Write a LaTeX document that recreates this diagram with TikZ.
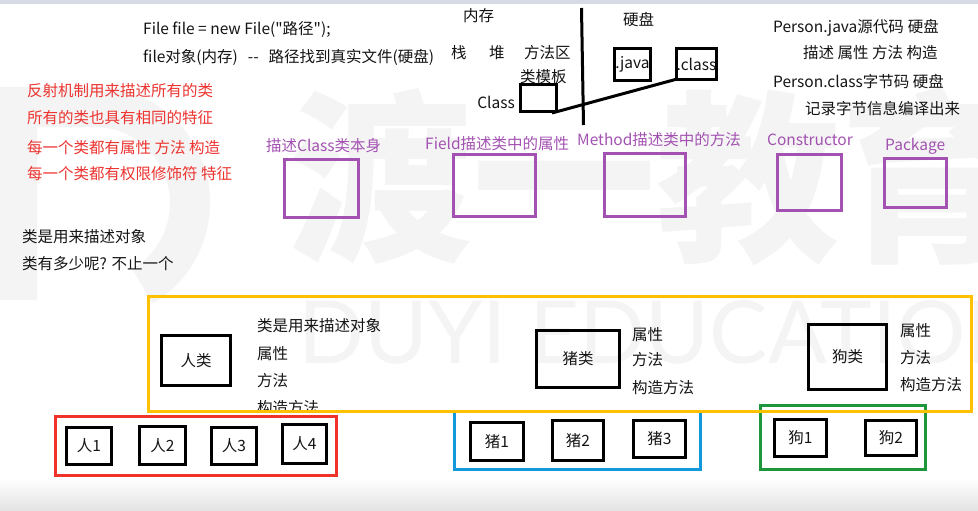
\documentclass[tikz,border=0pt]{standalone}
\usepackage{fontspec}
\setmainfont{Noto Sans CJK SC}[Ligatures=TeXOff]
\newfontfamily\wmlatin{Lato}
\usetikzlibrary{calc}
\definecolor{pur}{RGB}{163,82,178}
\definecolor{redtxt}{RGB}{236,52,48}
\definecolor{redbox}{RGB}{240,50,40}
\definecolor{yel}{RGB}{255,192,0}
\definecolor{blu}{RGB}{20,152,220}
\definecolor{grn}{RGB}{30,150,60}
\definecolor{ink}{RGB}{20,20,20}
\definecolor{wmc}{RGB}{244,244,244}
\definecolor{bandc}{RGB}{226,226,226}
\definecolor{topc}{RGB}{214,218,228}
\tikzset{
  txt/.style={font=\fontsize{15.5}{18}\selectfont, text=ink, inner sep=0pt, anchor=base west},
  redt/.style={txt, text=redtxt},
  purt/.style={txt, text=pur},
  bbox/.style={draw=black, line width=3pt, inner sep=0pt, font=\fontsize{15.5}{18}\selectfont, text=ink},
  pbox/.style={draw=pur, line width=3pt, inner sep=0pt},
  frame/.style={line width=3pt, inner sep=0pt},
}
\begin{document}
\begin{tikzpicture}[x=1pt,y=-1pt]
\useasboundingbox (0,0) rectangle (978,511);
\fill[white] (0,0) rectangle (978,511);
% background watermark
\draw[wmc, line width=40pt] (17,300) -- (17,107) -- (95,107) arc[start angle=90, end angle=-60, x radius=95pt, y radius=96pt];
\node[inner sep=0pt, anchor=base west, text=wmc, font=\fontsize{184}{184}\selectfont\bfseries] (wmcn) at (288,247) {渡一教育};
\node[inner sep=0pt, anchor=base west, text=wmc, font=\wmlatin\fontsize{87}{87}\selectfont] (wmen) at (298,363) {DUYI EDUCATION};
\shade[top color=white, bottom color=bandc] (0,478) rectangle (978,511);
\fill[topc] (0,0) rectangle (978,4);

% top-left text
\node[txt] (l1) at (143,35) {File file = new File("路径");};
\node[txt] (l2) at (143,63) {file对象(内存)\hspace{10pt}--\hspace{10pt}路径找到真实文件(硬盘)};
\node[redt] (r1) at (27,96) {反射机制用来描述所有的类};
\node[redt] (r2) at (27,124) {所有的类也具有相同的特征};
\node[redt] (r3) at (27,153) {每一个类都有属性 方法 构造};
\node[redt] (r4) at (27,179) {每一个类都有权限修饰符 特征};

% memory / disk
\node[txt] (mem) at (463,22) {内存};
\node[txt] (disk) at (623,26) {硬盘};
\node[txt] (stack) at (451,59) {栈};
\node[txt] (heap) at (489,59) {堆};
\node[txt] (marea) at (524,59) {方法区};
\node[txt] (tmpl) at (520,82) {类模板};
\node[bbox, minimum width=36, minimum height=27] (classbox) at (538.5,98) {};
\node[txt, anchor=base east] (classlbl) at (515,108) {Class};
\node[bbox, minimum width=36, minimum height=32] (javafile) at (632.5,64.5) {.java};
\node[bbox, minimum width=36, minimum height=31] (classfile) at (696.5,64) {.class};
\coordinate (vt) at (581.5,8);
\coordinate (vb) at (583.5,125);
\draw[line width=3pt] (vt) -- (vb);
\draw[line width=3pt] ($(classbox.south east)+(-6,0)$) -- ($(classfile.south west)+(2,-2)$);

% right notes
\node[txt] (p1) at (773,33) {Person.java源代码\hspace{4pt}硬盘};
\node[txt] (p2) at (803,59) {描述 属性 方法 构造};
\node[txt] (p3) at (773,88) {Person.class字节码 硬盘};
\node[txt] (p4) at (805,114) {记录字节信息编译出来};

% purple row
\node[purt] (pl1) at (266,151) {描述Class类本身};
\node[purt] (pl2) at (425,149) {Field描述类中的属性};
\node[purt] (pl3) at (577,146) {Method描述类中的方法};
\node[purt] (pl4) at (767,146) {Constructor};
\node[purt] (pl5) at (885,150) {Package};
\node[pbox, minimum width=74, minimum height=58] (pb1) at (321.5,188.5) {};
\node[pbox, minimum width=82, minimum height=62] (pb2) at (494.5,185.5) {};
\node[pbox, minimum width=81, minimum height=63] (pb3) at (645,185) {};
\node[pbox, minimum width=64, minimum height=56] (pb4) at (809.5,182.5) {};
\node[pbox, minimum width=62, minimum height=49] (pb5) at (915.5,183) {};

% middle-left text
\node[txt] (c1) at (22,242) {类是用来描述对象};
\node[txt] (c2) at (22,269) {类有多少呢? 不止一个};

% class boxes
\node[bbox, minimum width=69, minimum height=50] (renlei) at (196,360.5) {人类};
\node[txt] (ra) at (257,331) {类是用来描述对象};
\node[txt] (rb) at (257,359) {属性};
\node[txt] (rc) at (257,386) {方法};
\begin{scope}
\clip (0,0) rectangle (978,410.5);
\node[txt] (rd) at (257,413) {构造方法};
\end{scope}
\node[bbox, minimum width=83, minimum height=57] (zhulei) at (578,359) {猪类};
\node[txt] (za) at (632,340) {属性};
\node[txt] (zb) at (632,365) {方法};
\node[txt] (zc) at (632,393) {构造方法};
\node[bbox, minimum width=78, minimum height=65] (goulei) at (847.5,357) {狗类};
\node[txt] (ga) at (900,336) {属性};
\node[txt] (gb) at (900,363) {方法};
\node[txt] (gc) at (900,390) {构造方法};

% instances
\node[bbox, minimum width=45, minimum height=37] (ren1) at (89,446) {人1};
\node[bbox, minimum width=46, minimum height=38] (ren2) at (162.5,445.5) {人2};
\node[bbox, minimum width=45, minimum height=37] (ren3) at (234,446) {人3};
\node[bbox, minimum width=44, minimum height=39] (ren4) at (304.5,444) {人4};
\node[bbox, minimum width=53, minimum height=38] (zhu1) at (497,441.5) {猪1};
\node[bbox, minimum width=51, minimum height=40] (zhu2) at (578,440.5) {猪2};
\node[bbox, minimum width=52, minimum height=37] (zhu3) at (659.5,439) {猪3};
\node[bbox, minimum width=52, minimum height=37] (gou1) at (800.5,438) {狗1};
\node[bbox, minimum width=51, minimum height=35] (gou2) at (891,438) {狗2};

% group frames
\node[frame, draw=redbox, minimum width=281, minimum height=59] (redframe) at (196,446) {};
\node[frame, draw=blu, minimum width=246, minimum height=58] (blueframe) at (577.5,440.5) {};
\node[frame, draw=grn, minimum width=165, minimum height=64] (greenframe) at (843,437.5) {};
\node[frame, draw=yel, minimum width=823, minimum height=115] (yellowframe) at (560,354) {};
\end{tikzpicture}
\end{document}
